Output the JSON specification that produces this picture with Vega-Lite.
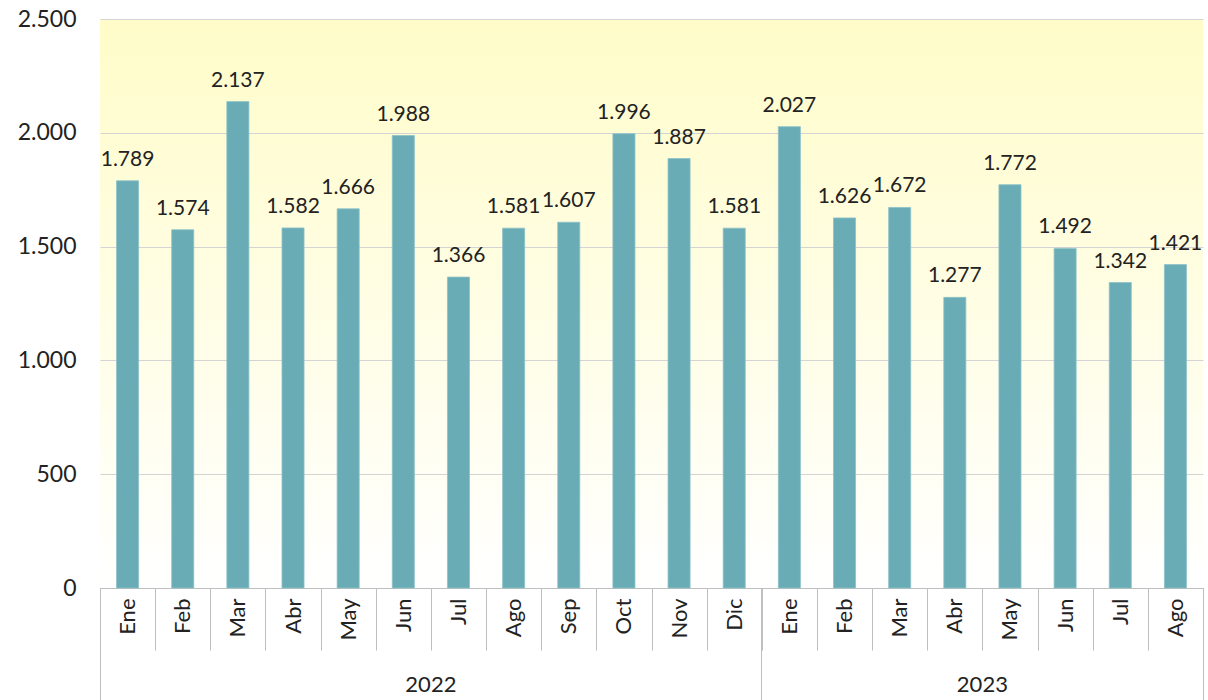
{
  "$schema": "https://vega.github.io/schema/vega-lite/v6.json",
  "width": 1103,
  "height": 569,
  "autosize": {"type": "none"},
  "padding": {"left": 100, "top": 19, "right": 5, "bottom": 112},
  "background": "#ffffff",
  "config": {
    "locale": {"number": {"decimal": ",", "thousands": ".", "grouping": [3], "currency": ["", " €"]}},
    "font": "Lato",
    "view": {"stroke": null, "fill": {"gradient": "linear", "x1": 0, "y1": 0, "x2": 0, "y2": 1, "stops": [{"offset": 0, "color": "#fffcc9"}, {"offset": 1, "color": "#ffffff"}]}}
  },
  "data": {"values": [
    {"k": "2022-Ene", "v": 1789}, {"k": "2022-Feb", "v": 1574}, {"k": "2022-Mar", "v": 2137},
    {"k": "2022-Abr", "v": 1582}, {"k": "2022-May", "v": 1666}, {"k": "2022-Jun", "v": 1988},
    {"k": "2022-Jul", "v": 1366}, {"k": "2022-Ago", "v": 1581}, {"k": "2022-Sep", "v": 1607},
    {"k": "2022-Oct", "v": 1996}, {"k": "2022-Nov", "v": 1887}, {"k": "2022-Dic", "v": 1581},
    {"k": "2023-Ene", "v": 2027}, {"k": "2023-Feb", "v": 1626}, {"k": "2023-Mar", "v": 1672},
    {"k": "2023-Abr", "v": 1277}, {"k": "2023-May", "v": 1772}, {"k": "2023-Jun", "v": 1492},
    {"k": "2023-Jul", "v": 1342}, {"k": "2023-Ago", "v": 1421}
  ]},
  "resolve": {"axis": {"x": "independent"}},
  "encoding": {
    "x": {"field": "k", "type": "ordinal", "sort": null, "scale": {"paddingInner": 0, "paddingOuter": 0}},
    "y": {"field": "v", "type": "quantitative", "scale": {"domain": [0, 2500]}}
  },
  "layer": [
    {
      "mark": {"type": "bar", "color": "#6aacb5", "stroke": "#8cc2c9", "strokeWidth": 0.8, "width": {"band": 0.4}},
      "encoding": {
        "x": {"field": "k", "type": "ordinal", "sort": null, "title": null,
          "axis": {"orient": "bottom", "labelExpr": "split(datum.label, '-')[1]", "labelAngle": 270, "labelAlign": "right", "labelBaseline": "middle",
            "labelFontSize": 22, "labelColor": "#222222", "labelPadding": -52, "tickBand": "extent", "tickSize": 62, "tickColor": "#bfbfbf",
            "domainColor": "#bfbfbf", "labelFont": "Lato"}},
        "y": {"field": "v", "type": "quantitative", "title": null,
          "axis": {"values": [0, 500, 1000, 1500, 2000, 2500], "format": ",d", "labelFontSize": 23, "labelColor": "#222222", "labelPadding": 24,
            "domain": false, "ticks": false, "gridColor": "#d4d4d4", "labelFont": "Lato"}}
      }
    },
    {
      "mark": {"type": "text", "baseline": "alphabetic", "dy": -15, "fontSize": 21, "color": "#222222", "font": "Lato"},
      "encoding": {
        "x": {"field": "k", "type": "ordinal", "sort": null, "title": null,
          "axis": {"orient": "bottom", "values": ["2022-Ene", "2023-Ene"], "bandPosition": 0, "labels": false, "domain": false, "tickSize": 112, "tickColor": "#bfbfbf"}},
        "text": {"field": "v", "type": "quantitative", "format": ",d"}
      }
    },
    {
      "mark": {"type": "tick", "opacity": 0},
      "encoding": {
        "x": {"field": "k", "type": "ordinal", "sort": null, "title": null,
          "axis": {"orient": "bottom", "values": ["2023-Ago"], "bandPosition": 1, "labels": false, "domain": false, "tickSize": 112, "tickColor": "#bfbfbf"}}
      }
    },
    {
      "mark": {"type": "tick", "opacity": 0},
      "encoding": {
        "x": {"field": "k", "type": "ordinal", "sort": null, "title": null,
          "axis": {"orient": "bottom", "values": ["2022-Jul", "2023-May"], "bandPosition": 0, "labelOffset": -27.6, "labelExpr": "split(datum.label, '-')[0]", "labelAngle": 0,
            "labelAlign": "center", "labelBaseline": "middle", "labelFontSize": 22, "labelColor": "#222222", "labelPadding": 96, "ticks": false, "domain": false, "labelFont": "Lato"}}
      }
    }
  ]
}
